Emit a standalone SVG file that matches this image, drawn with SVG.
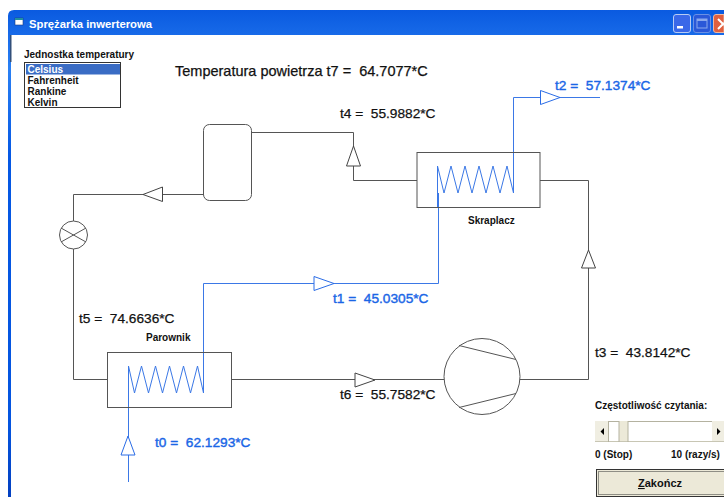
<svg xmlns="http://www.w3.org/2000/svg" width="724" height="497" viewBox="0 0 724 497">
<defs>
<linearGradient id="tb" x1="0" y1="0" x2="0" y2="1"><stop offset="0" stop-color="#0a5ae0"/><stop offset="0.12" stop-color="#2a80f4"/><stop offset="0.3" stop-color="#0558e4"/><stop offset="0.85" stop-color="#0455e0"/><stop offset="1" stop-color="#0340c0"/></linearGradient>
</defs>
<style>
text{font-family:"Liberation Sans",Arial,sans-serif;white-space:pre}
.k{fill:none;stroke:#555;stroke-width:1}
.b{fill:none;stroke:#3b78e6;stroke-width:1}
.ka{fill:#fff;stroke:#444;stroke-width:1}
.ba{fill:#fff;stroke:#2a6ce6;stroke-width:1}
.lab{font-size:13.7px;fill:#111;stroke:#111;stroke-width:0.25px}
.blu{font-size:13.7px;fill:#1a66e6;stroke:#1a66e6;stroke-width:0.4px}
.sm{font-size:10px;font-weight:bold;fill:#111}
</style>
<rect width="724" height="497" fill="#fff"/>
<g id="window">
<path d="M8 497V16Q8 10 14 10H724V35H11V497Z" fill="url(#tb)"/>
<rect x="10" y="35" width="1.5" height="27" fill="#33507a"/>
<rect x="15" y="18" width="8" height="7" fill="#fff" stroke="#1a3a80" stroke-width="0.6"/>
<rect x="15" y="18" width="8" height="2" fill="#2090a0"/>
<text x="29" y="28" font-size="11.3" font-weight="bold" fill="#fff">Sprężarka inwerterowa</text>
<rect x="673.500" y="14.500" width="17" height="18" rx="2.500" fill="#3a68e8" stroke="#b8ccf4"/>
<rect x="677" y="26" width="6" height="2.500" fill="#fff"/>
<rect x="693.500" y="14.500" width="17" height="18" rx="2.500" fill="#2a58d8" stroke="#6a90e4"/>
<rect x="697" y="19" width="10" height="9" fill="none" stroke="#8aa8ec"/>
<rect x="697" y="19" width="10" height="2" fill="#8aa8ec"/>
<path d="M724 14.500H716Q713.500 14.500 713.500 17V30Q713.500 32.500 716 32.500H724Z" fill="#e06040" stroke="#f0b8a0"/>
<path d="M718 19L724 25M718 29L724 23" stroke="#fff" stroke-width="2" fill="none"/>
</g>
<g id="listbox">
<text x="24" y="58" class="sm">Jednostka temperatury</text>
<rect x="24.500" y="62.500" width="96" height="45" fill="#fff" stroke="#333"/>
<rect x="26" y="64" width="94" height="10.500" fill="#3a6cc4"/>
<text x="27.500" y="73" class="sm" style="fill:#fff">Celsius</text>
<text x="27.500" y="84" class="sm">Fahrenheit</text>
<text x="27.500" y="95" class="sm">Rankine</text>
<text x="27.500" y="106" class="sm">Kelvin</text>
</g>
<g id="connectors">
<path class="k" d="M107 379.500H73.500V249M73.500 221V194.500H204"/>
<path class="k" d="M252 132.500H353.500V180.500H417"/>
<path class="k" d="M540 180.500H588.500V379.500H520"/>
<path class="k" d="M231 379.500H444"/>
<path class="b" d="M128.500 482V366L134.500 393L141.500 366L148.500 393L155.500 366L162.500 393L169.500 366L176.500 393L183.500 366L190.500 393L197.500 366L203.500 393V283.500H438.500V193"/>
<path class="b" d="M437.500 207V166L444 193L451 166L458 193L465 166L472 193L479 166L486 193L493 166L500 193L507 166L513.500 193V97.500H600"/>
</g>
<g id="arrows">
<path class="ba" d="M128 436L121 455H135Z"/>
<path class="ba" d="M334 283.500L314 276.500V290.500Z"/>
<path class="ba" d="M560 97.500L540.500 90.500V104.500Z"/>
<path class="ka" d="M143 194.500L162.500 187V201.500Z"/>
<path class="ka" d="M353.500 146L346.500 166H360.500Z"/>
<path class="ka" d="M588.500 250L581.500 268H595.500Z"/>
<path class="ka" d="M375 380L355 373V387Z"/>
</g>
<g id="valve"><circle class="k" cx="73.500" cy="235" r="14"/><path class="k" d="M61 228L86 242M61 242L86 228"/></g>
<g id="tank"><rect class="k" x="203.500" y="124.500" width="48" height="76" rx="6"/></g>
<g id="evaporator"><rect class="k" x="107.500" y="352.500" width="124" height="55"/><text x="146" y="341" class="sm">Parownik</text></g>
<g id="condenser"><rect class="k" x="417" y="152.500" width="123" height="55"/><text x="468" y="224" class="sm">Skraplacz</text></g>
<g id="compressor"><circle class="k" cx="482" cy="376.500" r="38"/><path class="k" d="M459 345.500L516 359.500M459 407.500L516 393.500"/></g>
<g id="labels">
<text x="175" y="76" class="lab" style="font-size:14.5px">Temperatura powietrza t7 =  64.7077*C</text>
<text x="340" y="118" class="lab">t4 =  55.9882*C</text>
<text x="79" y="323" class="lab">t5 =  74.6636*C</text>
<text x="340" y="399" class="lab">t6 =  55.7582*C</text>
<text x="595" y="357" class="lab">t3 =  43.8142*C</text>
<text x="555" y="90" class="blu">t2 =  57.1374*C</text>
<text x="333" y="303" class="blu">t1 =  45.0305*C</text>
<text x="155" y="447" class="blu">t0 =  62.1293*C</text>
</g>
<g id="slider">
<text x="595" y="409" class="sm">Częstotliwość czytania:</text>
<rect x="595" y="421" width="129" height="21" fill="#fff"/>
<rect x="595" y="421" width="13" height="20" fill="#f0eee2"/>
<rect x="712" y="421" width="12" height="20" fill="#f0eee2"/>
<rect x="619" y="421" width="9" height="20" fill="#ece9d8"/>
<path d="M595 441.500H724" stroke="#c8c6b4" fill="none"/>
<path d="M608.500 442V421M619 442V421M628 442V421M608 421.500H619M628 421.500H712" stroke="#b4b2a0" fill="none"/>
<path d="M604 428V435L600.500 431.500Z M717 428V435L720.500 431.500Z" fill="#000"/>
<text x="595" y="458" class="sm">0 (Stop)</text>
<text x="671" y="458" class="sm">10 (razy/s)</text>
</g>
<g id="button">
<rect x="596.500" y="469.500" width="128" height="27" fill="#ece9d8" stroke="#333"/>
<rect x="598.500" y="471.500" width="126" height="23" fill="none" stroke="#333" stroke-dasharray="1 1"/>
<text x="660" y="487" font-size="11" font-weight="bold" text-anchor="middle" fill="#111"><tspan text-decoration="underline">Z</tspan>akończ</text>
</g>
</svg>
